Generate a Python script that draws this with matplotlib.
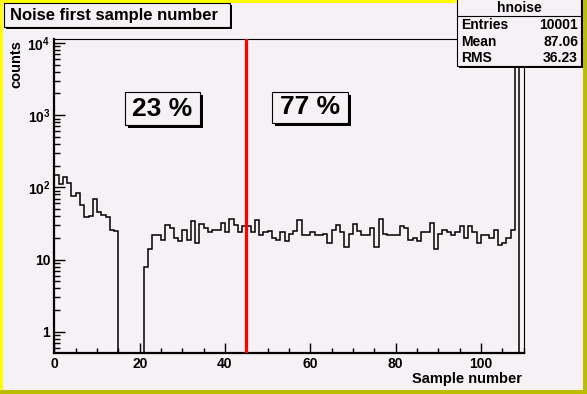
import numpy as np
import matplotlib
matplotlib.use("Agg")
from matplotlib import pyplot as plt
from matplotlib.patches import Rectangle
from matplotlib.ticker import FixedLocator, MultipleLocator, LogLocator, NullFormatter

plt.rcParams["font.family"] = ["Liberation Sans", "DejaVu Sans"]
plt.rcParams["font.weight"] = "bold"
plt.rcParams["mathtext.fontset"] = "custom"
plt.rcParams["mathtext.rm"] = "Liberation Sans:bold"
plt.rcParams["mathtext.bf"] = "Liberation Sans:bold"

# ---- data ----
bin_edges = np.arange(0, 111)
counts = [147, 110, 141, 114, 77, 84, 58, 39, 40, 70, 45, 42, 39, 26, 25,
          0, 0, 0, 0, 0, 0,
          8, 14, 22, 22, 19, 30, 27, 20, 18, 26, 19, 34, 17, 31, 27, 24, 26,
          26, 32, 24, 36, 30, 24, 29, 29, 24, 35,
          22, 24, 25, 20, 19, 24, 18, 23, 25, 35, 22, 22, 24, 22, 22, 23, 17,
          26, 30, 24, 15, 23, 31, 25, 22, 22, 27, 15, 37,
          23, 22, 22, 22, 29, 27, 19, 20, 18, 24, 24, 32, 14, 23, 26, 24, 22,
          24, 29, 20, 29, 24, 17, 22, 22, 20, 26, 16, 17, 20, 26,
          6900, 0]
cut_position = 45
fractions = ["23 %", "77 %"]
stat_names = ["Entries", "Mean", "RMS"]
stat_values = ["10001", "87.06", "36.23"]
hist_name = "hnoise"
title = "Noise first sample number"
x_ticks = [0, 20, 40, 60, 80, 100]
y_ticks = [1, 10, 100, 1000, 10000]
y_tick_labels = ["1", "10", r"$\mathbf{10^{2}}$", r"$\mathbf{10^{3}}$", r"$\mathbf{10^{4}}$"]

W, H = 587, 394
BG = "#f5f1f5"

fig = plt.figure(figsize=(W / 100, H / 100), dpi=100, facecolor=BG)


def fig_rect(x0, y0, x1, y1, **kw):
    # pixel coords measured from the top-left corner of the canvas
    r = Rectangle((x0 / W, 1 - y1 / H), (x1 - x0) / W, (y1 - y0) / H,
                  transform=fig.transFigure, figure=fig, **kw)
    fig.add_artist(r)
    return r


def shadow_box(x0, y0, x1, y1, shadow=2, zorder=5):
    fig_rect(x0 + shadow, y0 + shadow, x1 + shadow, y1 + shadow,
             facecolor="black", edgecolor="none", zorder=zorder)
    fig_rect(x0, y0, x1, y1, facecolor=BG, edgecolor="black",
             linewidth=0.8, zorder=zorder + 0.1)


def fig_text(x, y, s, **kw):
    fig.text(x / W, 1 - y / H, s, **kw)


# canvas border: yellow top/left, olive bottom/right
fig_rect(0, 0, W, 3, facecolor="#ffff00", edgecolor="none", zorder=0.5)
fig_rect(0, 0, 3, H, facecolor="#ffff00", edgecolor="none", zorder=0.5)
fig_rect(0, H - 4, W, H, facecolor="#bcbc00", edgecolor="none", zorder=0.6)
fig_rect(W - 4, 0, W, H, facecolor="#bcbc00", edgecolor="none", zorder=0.6)

# frame
left, right, top, bottom = 54.4, 523.5, 39, 353
ax = fig.add_axes([left / W, 1 - bottom / H, (right - left) / W, (bottom - top) / H])
ax.set_facecolor(BG)

ax.stairs(counts, bin_edges, color="black", linewidth=1.1, zorder=2)
ax.axvline(cut_position, color="#ff0000", linewidth=2.3, zorder=3)

ax.set_yscale("log", nonpositive="clip")
ax.set_xlim(0, 110)
ax.set_ylim(0.51, 11350)

ax.xaxis.set_major_locator(FixedLocator(x_ticks))
ax.xaxis.set_minor_locator(MultipleLocator(5))
ax.set_xticklabels([str(t) for t in x_ticks])
ax.yaxis.set_major_locator(FixedLocator(y_ticks))
ax.set_yticklabels(y_tick_labels)
ax.yaxis.set_minor_locator(LogLocator(base=10, subs=np.arange(2, 10)))
ax.yaxis.set_minor_formatter(NullFormatter())

ax.tick_params(axis="both", which="both", direction="in", top=False, right=False,
               labelsize=10, width=1.0)
ax.tick_params(axis="x", which="major", length=7, pad=3)
ax.tick_params(axis="x", which="minor", length=3.5)
ax.tick_params(axis="y", which="major", length=8, pad=3)
ax.tick_params(axis="y", which="minor", length=4)
for lab in ax.get_xticklabels() + ax.get_yticklabels():
    lab.set_fontweight("bold")

ax.spines["left"].set_linewidth(1.6)
ax.spines["bottom"].set_linewidth(1.6)
ax.spines["top"].set_linewidth(0.8)
ax.spines["right"].set_linewidth(0.8)

# axis titles
fig_text(right - 2, 379, "Sample number", ha="right", va="center", fontsize=10.5,
         fontweight="bold")
fig_text(16, 40, "counts", ha="center", va="top", rotation=90, fontsize=10.5,
         fontweight="bold")

# title box
shadow_box(4, 3, 230, 27)
fig_text(10, 15.5, title, ha="left", va="center", fontsize=12, fontweight="bold",
         zorder=6)

# stats box
shadow_box(457, -2, 581, 66, zorder=7)
fig_rect(457, 16, 581, 16, edgecolor="black", linewidth=0.8, zorder=7.2)
fig_text(519, 7.5, hist_name, ha="center", va="center", fontsize=10,
         fontweight="bold", zorder=8)
for i, (name, val) in enumerate(zip(stat_names, stat_values)):
    y = 25 + 16.5 * i
    fig_text(461, y, name, ha="left", va="center", fontsize=10, fontweight="bold", zorder=8)
    fig_text(578, y, val, ha="right", va="center", fontsize=10, fontweight="bold", zorder=8)

# percentage boxes
shadow_box(125, 92, 200, 125, shadow=3)
fig_text(162.5, 108.5, fractions[0], ha="center", va="center", fontsize=19,
         fontweight="bold", zorder=6)
shadow_box(272, 92, 348, 123, shadow=3)
fig_text(310, 107.5, fractions[1], ha="center", va="center", fontsize=19,
         fontweight="bold", zorder=6)

fig.savefig("out.png", dpi=100, facecolor=BG)
